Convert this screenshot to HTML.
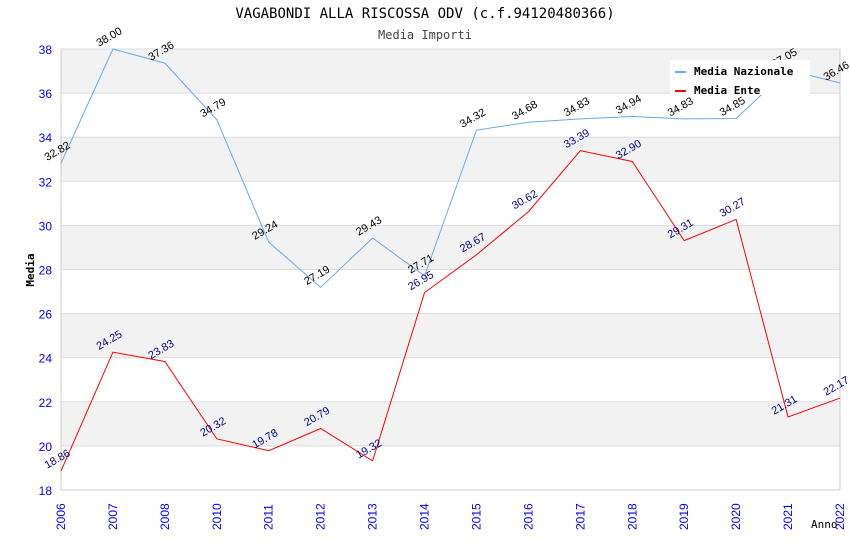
<!DOCTYPE html>
<html><head><meta charset="utf-8"><style>
body{margin:0;background:#fff}
svg text{font-family:"Liberation Sans",Arial,sans-serif}
</style></head><body>
<svg id="c" width="850" height="550" xmlns="http://www.w3.org/2000/svg">
<text x="425" y="18" text-anchor="middle" font-size="14" style="font-family:'DejaVu Sans Mono',monospace">VAGABONDI ALLA RISCOSSA ODV (c.f.94120480366)</text>
<text x="425" y="39" text-anchor="middle" font-size="12" fill="#444" style="font-family:'DejaVu Sans Mono',monospace">Media Importi</text>
<g id="bands"></g><g id="grid"></g><g id="axes"></g><g id="series"></g><g id="labels"></g>
<text x="34" y="270" transform="rotate(-90 34 270)" text-anchor="middle" font-size="11" font-weight="bold" style="font-family:'DejaVu Sans Mono',monospace">Media</text>
<text x="811" y="528" font-size="11" style="font-family:'DejaVu Sans Mono',monospace">Anno</text>
<g>
<rect x="670" y="60" width="140" height="35" fill="#fff"/>
<line x1="675" y1="72" x2="686" y2="72" stroke="#6aaaea" stroke-width="2"/>
<text x="694" y="75" font-size="11" font-weight="bold" style="font-family:'DejaVu Sans Mono',monospace">Media Nazionale</text>
<line x1="675" y1="91" x2="686" y2="91" stroke="#f00" stroke-width="2"/>
<text x="694" y="94" font-size="11" font-weight="bold" style="font-family:'DejaVu Sans Mono',monospace">Media Ente</text>
</g>
</svg>
<script>
const categories=["2006","2007","2008","2010","2011","2012","2013","2014","2015","2016","2017","2018","2019","2020","2021","2022"];
const nazionale=[32.82,38.00,37.36,34.79,29.24,27.19,29.43,27.71,34.32,34.68,34.83,34.94,34.83,34.85,37.05,36.46];
const ente=[18.86,24.25,23.83,20.32,19.78,20.79,19.32,26.95,28.67,30.62,33.39,32.90,29.31,30.27,21.31,22.17];
const yTicks=[18,20,22,24,26,28,30,32,34,36,38];
const L=61,R=840,T=49,B=490,yMin=18,yMax=38;
const xs=i=>L+i*(R-L)/(categories.length-1);
const ys=v=>B-(v-yMin)/(yMax-yMin)*(B-T);
const NS="http://www.w3.org/2000/svg";
function mk(p,tag,a){const e=document.createElementNS(NS,tag);for(const k in a)e.setAttribute(k,a[k]);document.getElementById(p).appendChild(e);return e;}
for(let i=0;i<yTicks.length-1;i++){
 if(i%2==1){const r=mk('bands','rect',{x:L,y:ys(yTicks[i+1]),width:R-L,height:ys(yTicks[i])-ys(yTicks[i+1]),fill:'#f2f2f2'});
 
 }
}
yTicks.forEach(t=>{
 const l=mk('grid','line',{x1:L,x2:R,y1:ys(t),y2:ys(t),stroke:'#ddd'});
 
 
 const tx=mk('axes','text',{x:L-9,y:ys(t)+5,'text-anchor':'end','font-size':12,fill:'#00f'});
 tx.textContent=t;
 
 
});
mk('axes','line',{x1:L,x2:L,y1:T,y2:B,stroke:'#ccc'});
mk('axes','line',{x1:R,x2:R,y1:T,y2:B,stroke:'#ccc'});
mk('axes','line',{x1:L,x2:R,y1:B,y2:B,stroke:'#ccc'});
categories.forEach((c,i)=>{
 const x=xs(i)+4,y=B+40;
 const tx=mk('axes','text',{x:x,y:y,transform:`rotate(-90 ${x} ${y})`,'font-size':12,fill:'#00f'});
 tx.textContent=c;
 
 
});
function series(vals,color,lc,name){
 const p=mk('series','polyline',{points:vals.map((v,i)=>xs(i)+','+ys(v)).join(' '),fill:'none',stroke:color,'stroke-width':1});
 
 
 vals.forEach((v,i)=>{
  const x=xs(i)-2,y=ys(v)-9;
  const t=mk('labels','text',{x:x,y:y,'text-anchor':'middle',transform:`rotate(-30 ${x} ${y})`,'font-size':11,fill:lc});
  t.textContent=v.toFixed(2);
  
  
 });
}
series(nazionale,'#6aaaea','#000','nazionale');
series(ente,'#f00','#00008b','ente');
</script>
</body></html>
